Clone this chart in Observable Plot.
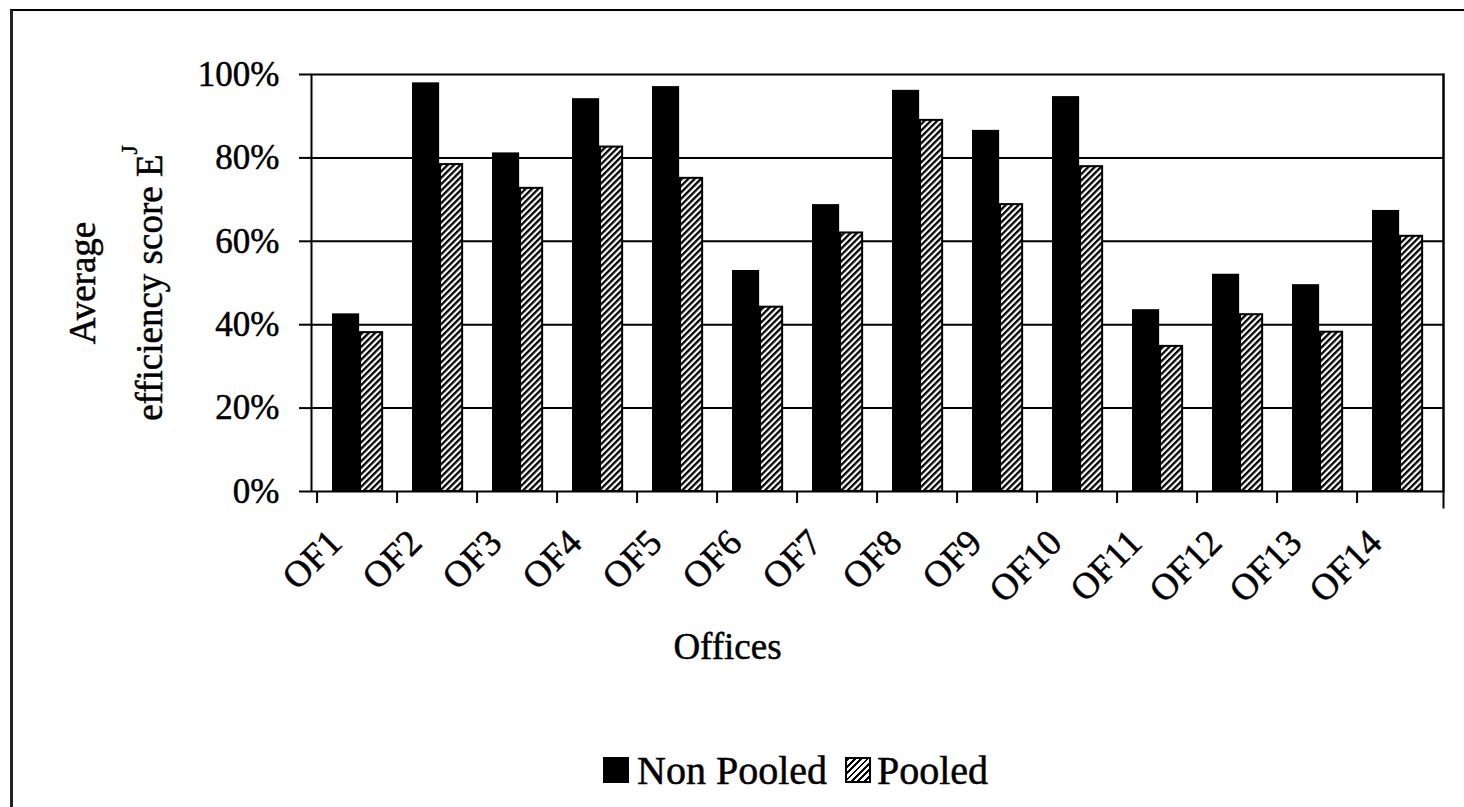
<!DOCTYPE html>
<html>
<head>
<meta charset="utf-8">
<script src="https://cdn.jsdelivr.net/npm/d3@7"></script>
<script src="https://cdn.jsdelivr.net/npm/@observablehq/plot@0.6"></script>
<style>
  html, body { margin: 0; padding: 0; background: #fff; }
  #page { position: relative; width: 1464px; height: 807px; overflow: hidden; background: #fff; }
  #chart { position: absolute; left: 0; top: 0; }
  #chart svg text { stroke: #000; stroke-width: 0.5px; }
  #border { position: absolute; left: 10px; top: 9px; width: 1460px; height: 805px; pointer-events: none;
            border-left: 3px solid #222; border-top: 2px solid #000; }
  #legend { position: absolute; left: 603px; top: 757px; height: 26px; display: flex; align-items: center;
            font-family: "Liberation Serif", "Times New Roman", serif; font-size: 40px; color: #000; white-space: nowrap;
            -webkit-text-stroke: 0.5px #000; }
  .sw { width: 26px; height: 26px; box-sizing: border-box; flex: none; }
</style>
</head>
<body>
<div id="page">
  <div id="chart"></div>
  <div id="border"></div>
  <div id="legend"></div>
</div>
<script>
// Average efficiency score per office, in percent
const offices = ["OF1", "OF2", "OF3", "OF4", "OF5", "OF6", "OF7", "OF8", "OF9", "OF10", "OF11", "OF12", "OF13", "OF14"];
const nonPooled = [42.6, 98.0, 81.2, 94.2, 97.1, 53.0, 68.8, 96.2, 86.6, 94.7, 43.6, 52.1, 49.6, 67.4];
const pooled    = [38.1, 78.4, 72.7, 82.6, 75.1, 44.2, 62.0, 89.0, 68.8, 77.9, 34.8, 42.4, 38.2, 61.2];
const seriesNames = ["Non Pooled", "Pooled"];
const yTicks = [0, 20, 40, 60, 80, 100];
const yTitle = ["Average", "efficiency score E"];
const ySup = "J";
const xTitle = "Offices";

const rows = offices.map((office, i) => ({office, nonPooled: nonPooled[i], pooled: pooled[i]}));

const W = 1464, H = 720;
const mL = 311, mR = 21, mT = 74, mB = 229;
const step = (W - mL - mR) / offices.length;
const serif = "'Liberation Serif', 'Times New Roman', serif";

const chart = Plot.plot({
  width: W,
  height: H,
  marginLeft: mL,
  marginRight: mR,
  marginTop: mT,
  marginBottom: mB,
  style: {fontFamily: serif, fontSize: "35px", color: "#000", background: "#fff", overflow: "visible"},
  x: {type: "band", domain: offices, padding: 0, label: null},
  y: {domain: [0, 100], label: null},
  marks: [
    // horizontal gridlines
    Plot.ruleY(yTicks.filter((t) => t > 0 && t < 100), {stroke: "#000", strokeWidth: 2}),
    // Non Pooled: solid black, left half of each group
    Plot.barY(rows, {x: "office", y: "nonPooled", fill: "#000", insetLeft: 15, insetRight: step - 43}),
    // Pooled: hatched with a black outline, right half of each group
    Plot.barY(rows, {x: "office", y: "pooled", fill: "url(#hatch)", stroke: "#000", strokeWidth: 2,
                     insetLeft: 43, insetRight: step - 66}),
    Plot.frame({stroke: "#000", strokeWidth: 2}),
    Plot.frame({anchor: "right", stroke: "#000", strokeWidth: 2, insetBottom: -16}),
    Plot.axisY({ticks: yTicks, tickSize: 12, tickPadding: 20, tickFormat: (d) => d + "%",
                fontSize: 35, strokeWidth: 2, label: null}),
    // category boundary ticks
    Plot.axisX({tickSize: 12, tickFormat: () => "", dx: -step / 2, strokeWidth: 2, label: null}),
    // rotated office labels
    Plot.axisX({tickSize: 0, tickRotate: -45, tickPadding: 45, dx: -22, fontSize: 37, label: null}),
    Plot.text([yTitle[0]], {frameAnchor: "left", textAnchor: "middle", rotate: -90, dx: -228, fontSize: 37, fill: "#000"}),
    Plot.text([yTitle[1]], {frameAnchor: "left", textAnchor: "middle", rotate: -90, dx: -161, fontSize: 37, fill: "#000"}),
    Plot.text([xTitle], {frameAnchor: "bottom", dx: -150, dy: 167, fontSize: 37, fill: "#000"})
  ]
});

// diagonal hatch pattern used by the Pooled bars
const NS = "http://www.w3.org/2000/svg";
const defs = document.createElementNS(NS, "defs");
const pat = document.createElementNS(NS, "pattern");
pat.setAttribute("id", "hatch");
pat.setAttribute("patternUnits", "userSpaceOnUse");
pat.setAttribute("width", "4.5");
pat.setAttribute("height", "4.5");
pat.setAttribute("patternTransform", "rotate(45)");
const bg = document.createElementNS(NS, "rect");
bg.setAttribute("width", "4.5");
bg.setAttribute("height", "4.5");
bg.setAttribute("fill", "#fff");
const stripe = document.createElementNS(NS, "rect");
stripe.setAttribute("width", "2.3");
stripe.setAttribute("height", "4.5");
stripe.setAttribute("fill", "#000");
pat.append(bg, stripe);
defs.append(pat);
chart.insertBefore(defs, chart.firstChild);

// superscript on the axis title
for (const t of chart.querySelectorAll("text")) {
  if (t.textContent === yTitle[1]) {
    const sup = document.createElementNS(NS, "tspan");
    sup.setAttribute("font-size", "24");
    sup.setAttribute("dy", "-25");
    sup.textContent = ySup;
    t.appendChild(sup);
  }
}

document.getElementById("chart").append(chart);

// legend
const legend = document.getElementById("legend");
const swatchStyles = [
  "background:#000;",
  "border:2px solid #000;background:repeating-linear-gradient(135deg,#000 0 2px,#fff 2px 4.5px);"
];
seriesNames.forEach((name, i) => {
  const sw = document.createElement("span");
  sw.className = "sw";
  sw.style.cssText = swatchStyles[i] + (i > 0 ? "margin-left:18px;" : "");
  const label = document.createElement("span");
  label.textContent = name;
  label.style.marginLeft = i > 0 ? "6px" : "8px";
  legend.append(sw, label);
});
</script>
</body>
</html>
